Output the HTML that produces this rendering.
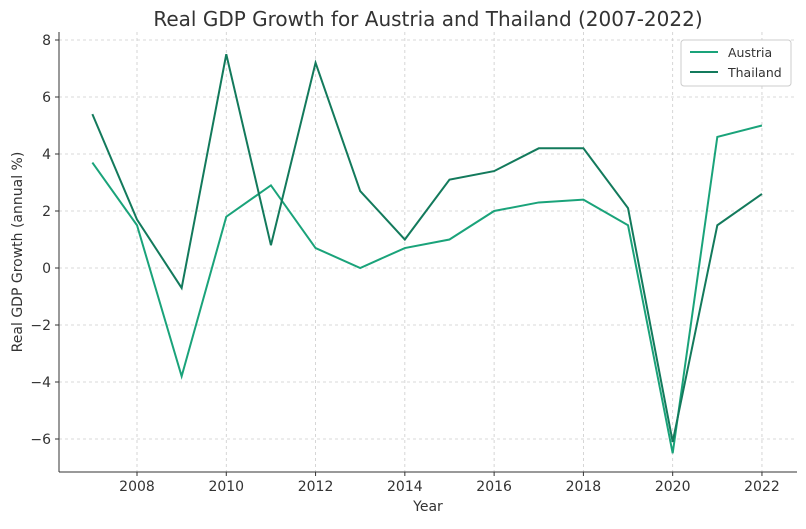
<!DOCTYPE html>
<html><head><meta charset="utf-8"><style>
body{margin:0;background:#fff;font-family:"Liberation Sans","DejaVu Sans",sans-serif;}
svg text{font-family:"DejaVu Sans","Liberation Sans",sans-serif;fill:#333;}
</style></head><body>
<svg id="chart" width="806" height="524">
<text x="428" y="26" font-size="20" text-anchor="middle">Real GDP Growth for Austria and Thailand (2007-2022)</text>
<g id="grid"></g><g id="axes"></g><g id="series"></g>
<text x="428" y="511" font-size="14" text-anchor="middle">Year</text>
<text transform="translate(22,252) rotate(-90)" font-size="14" text-anchor="middle">Real GDP Growth (annual %)</text>
<g>
<rect x="681" y="40" width="110" height="46" rx="3" fill="#fff" stroke="#ccc"/>
<line x1="690" y1="52" x2="718" y2="52" stroke="#1aa37a" stroke-width="2"/>
<text x="728" y="57" font-size="12.5">Austria</text>
<line x1="690" y1="72" x2="718" y2="72" stroke="#137a5c" stroke-width="2"/>
<text x="728" y="77" font-size="12.5">Thailand</text>
</g>
</svg>
<script>
const years=[2007,2008,2009,2010,2011,2012,2013,2014,2015,2016,2017,2018,2019,2020,2021,2022];
const austria=[3.7,1.5,-3.8,1.8,2.9,0.7,0.0,0.7,1.0,2.0,2.3,2.4,1.5,-6.5,4.6,5.0];
const thailand=[5.4,1.7,-0.7,7.5,0.8,7.2,2.7,1.0,3.1,3.4,4.2,4.2,2.1,-6.1,1.5,2.6];
const xTicks=[2008,2010,2012,2014,2016,2018,2020,2022];
const yTicks=[-6,-4,-2,0,2,4,6,8];
const NS="http://www.w3.org/2000/svg";
const L=59,R=797,T=32,B=472;
const x=v=>137+(v-2008)*44.64;
const y=v=>268-v*28.5;
function mk(tag,attrs,parent){const e=document.createElementNS(NS,tag);for(const k in attrs)e.setAttribute(k,attrs[k]);parent.appendChild(e);return e;}
const grid=document.getElementById('grid'),axes=document.getElementById('axes'),ser=document.getElementById('series');
xTicks.forEach(t=>{
 const g=mk('line',{x1:x(t),x2:x(t),y1:T,y2:B,stroke:'#ccc','stroke-dasharray':'3,3','stroke-width':0.8},grid);
 
 
 mk('line',{x1:x(t),x2:x(t),y1:B,y2:B+4,stroke:'#333'},axes);
 const tx=mk('text',{x:x(t),y:B+19,'font-size':14,'text-anchor':'middle'},axes);tx.textContent=t;
 
 
});
yTicks.forEach(t=>{
 const g=mk('line',{x1:L,x2:R,y1:y(t),y2:y(t),stroke:'#ccc','stroke-dasharray':'3,3','stroke-width':0.8},grid);
 
 
 mk('line',{x1:L-4,x2:L,y1:y(t),y2:y(t),stroke:'#333'},axes);
 const tx=mk('text',{x:L-8,y:y(t)+5,'font-size':14,'text-anchor':'end'},axes);tx.textContent=t<0?'\u2212'+(-t):t;
 
 
});
mk('line',{x1:L,x2:L,y1:T,y2:B,stroke:'#333'},axes);
mk('line',{x1:L,x2:R,y1:B,y2:B,stroke:'#333'},axes);
function line(data,color,name){
 const p=mk('polyline',{points:data.map((v,i)=>x(years[i])+','+y(v)).join(' '),fill:'none',stroke:color,'stroke-width':2},ser);
 
 
}
line(austria,'#1aa37a','austria-line');
line(thailand,'#137a5c','thailand-line');
</script>
</body></html>
